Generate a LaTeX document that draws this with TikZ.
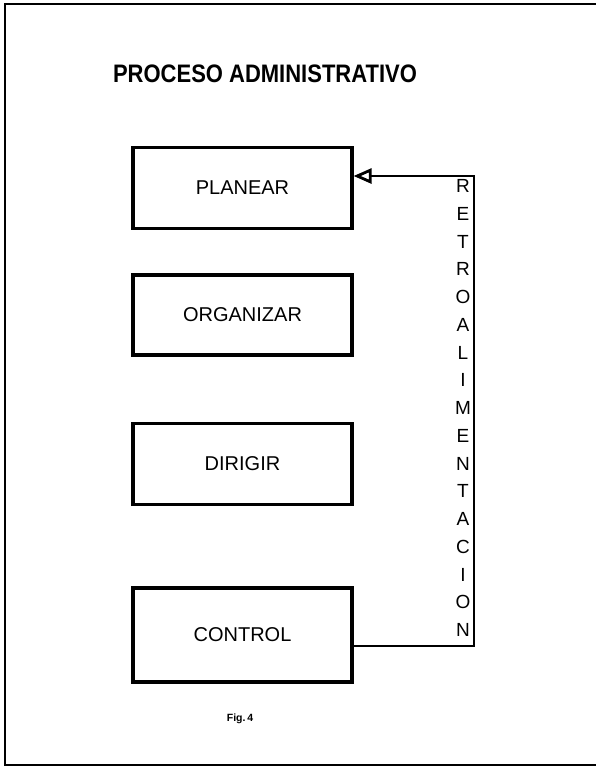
\documentclass[tikz,border=0pt]{standalone}
\usepackage{fontspec}
\setmainfont{Liberation Sans}
\usetikzlibrary{arrows.meta}
\begin{document}
\begin{tikzpicture}[x=1pt,y=-1pt,
  stagebox/.style={draw,line width=3.2pt,minimum width=219pt,inner sep=0pt,
    font=\fontsize{20}{22}\selectfont},
  frameline/.style={line width=2.2pt},
  feedback/.style={line width=2.8pt},
  vletter/.style={inner sep=0pt,font=\fontsize{19}{21}\selectfont},
  tip/.style={-{Triangle[open,length=18pt,width=15pt,line width=2.8pt]}}]
\useasboundingbox (0,0) rectangle (596,769);
% outer frame (top, left and bottom edges)
\draw[frameline] (596,4) -- (5,4) -- (5,765) -- (596,765);
% title
\node[font=\bfseries\fontsize{22}{26}\selectfont] (title) at (265,74) {\scalebox{1}[1.15]{PROCESO ADMINISTRATIVO}};
% the four stages
\node[stagebox,minimum height=81pt] (plan) at (242.5,188) {PLANEAR};
\node[stagebox,minimum height=80pt] (org)  at (242.5,315) {ORGANIZAR};
\node[stagebox,minimum height=81pt] (dir)  at (242.5,464) {DIRIGIR};
\node[stagebox,minimum height=94pt] (ctrl) at (242.5,635) {CONTROL};
% feedback loop from CONTROL back to PLANEAR
\coordinate (fbtop) at (474,176);
\coordinate (fbbot) at (474,646);
\draw[feedback,tip] (ctrl.east |- fbbot) -- (fbbot) -- (fbtop) -- (plan.east |- fbtop);
% vertical label of the loop
\foreach \l [count=\i from 0] in {R,E,T,R,O,A,L,I,M,E,N,T,A,C,I,O,N}
  \node[vletter] (fb\i) at (463,{186+27.75*\i}) {\l};
% caption
\node[font=\bfseries\fontsize{10.5}{12}\selectfont] (cap) at (240,719) {Fig.\,4};
\end{tikzpicture}
\end{document}
